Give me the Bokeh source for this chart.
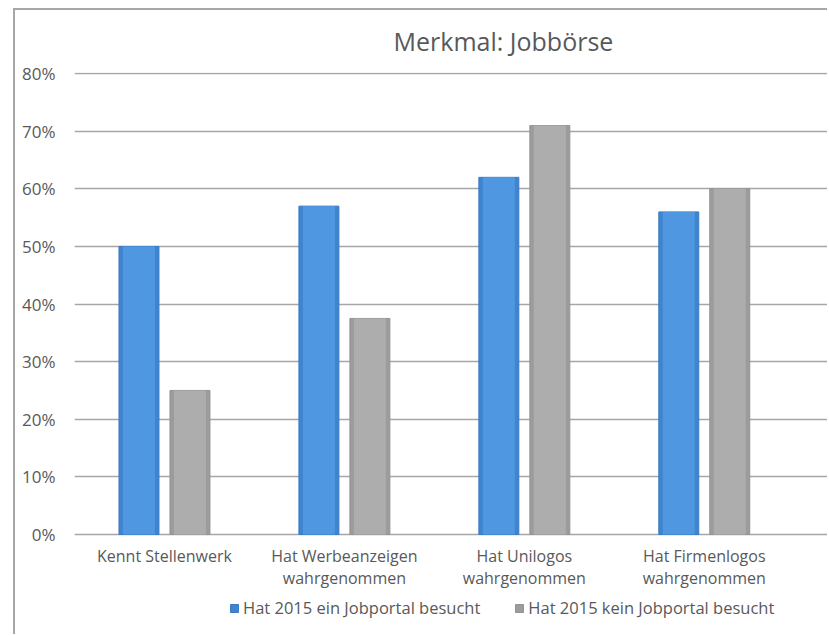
from bokeh.plotting import figure
from bokeh.models import ColumnDataSource, FixedTicker, Legend, LegendItem, Title
from bokeh.core.properties import value
from bokeh.transform import dodge
from bokeh.embed import file_html
from bokeh.resources import INLINE

# ---- data ----
categories = [
    "Kennt Stellenwerk",
    "Hat Werbeanzeigen\nwahrgenommen",
    "Hat Unilogos\nwahrgenommen",
    "Hat Firmenlogos\nwahrgenommen",
]
series_names = ["Hat 2015 ein Jobportal besucht", "Hat 2015 kein Jobportal besucht"]
ein_values = [50, 57, 62, 56]
kein_values = [25, 37.5, 71, 60]
y_ticks = [0, 10, 20, 30, 40, 50, 60, 70, 80]
y_tick_labels = ["0%", "10%", "20%", "30%", "40%", "50%", "60%", "70%", "80%"]
title_text = "Merkmal: Jobbörse"

FONT = "Open Sans"
TEXT = "#595959"
GRID = "#a6a6a6"

xs = list(range(len(categories)))
src = ColumnDataSource(dict(x=xs, ein=ein_values, kein=kein_values))

px_per_unit = 5.76                     # vertical pixels per percent
y_end = 80.2
y_start = y_end - 564 / px_per_unit    # frame reaches the bottom of the canvas

p = figure(
    width=814, height=626,
    x_range=(-0.5, 3.696), y_range=(y_start, y_end),
    output_backend="svg", toolbar_location=None,
    min_border_left=59, min_border_right=0, min_border_top=62, min_border_bottom=0,
)
p.styles = {
    "margin-left": "13px", "margin-top": "8px",
    "border-left": "2px solid #a6a6a6", "border-top": "2px solid #a6a6a6",
}
p.outline_line_color = None
p.background_fill_color = "white"
p.border_fill_color = "white"

t = Title(text=title_text, align="left", offset=319, standoff=26, vertical_align="top",
          text_font=FONT, text_font_size="25px", text_font_style="normal", text_color=TEXT)
p.add_layout(t, "above")

bw = 40 / 180
off = 25.5 / 180
inner = 32 / 180

r1 = p.vbar(x=dodge("x", -off, range=p.x_range), top="ein", width=bw, source=src,
            fill_color="#3f84cf", line_color="#3a7bc4", line_width=1)
p.vbar(x=dodge("x", -off, range=p.x_range), top="ein", width=inner, source=src,
       fill_color="#4f97e0", line_color=None)
r2 = p.vbar(x=dodge("x", off, range=p.x_range), top="kein", width=bw, source=src,
            fill_color="#9c9c9c", line_color="#939393", line_width=1)
p.vbar(x=dodge("x", off, range=p.x_range), top="kein", width=inner, source=src,
       fill_color="#adadad", line_color=None)

# category labels below the baseline
lab_src = ColumnDataSource(dict(x=xs, label=categories, y=[-11.0 / px_per_unit] * len(xs)))
p.text(x="x", y="y", text="label", source=lab_src,
       text_align="center", text_baseline="top", text_line_height=1.0,
       text_font=value(FONT), text_font_size="16px", text_color=TEXT)

# axes
p.xaxis.visible = False
p.yaxis.ticker = FixedTicker(ticks=y_ticks)
p.yaxis.major_label_overrides = {t_: l for t_, l in zip(y_ticks, y_tick_labels)}
p.yaxis.axis_line_color = None
p.yaxis.major_tick_line_color = None
p.yaxis.minor_tick_line_color = None
p.yaxis.major_label_text_font = FONT
p.yaxis.major_label_text_font_size = "17px"
p.yaxis.major_label_text_color = TEXT
p.yaxis.major_label_standoff = 13

p.xgrid.grid_line_color = None
p.ygrid.ticker = FixedTicker(ticks=y_ticks)
p.ygrid.grid_line_color = GRID
p.ygrid.grid_line_width = 1.5

legend = Legend(
    items=[LegendItem(label=series_names[0], renderers=[r1]),
           LegendItem(label=series_names[1], renderers=[r2])],
    location=(155, 17), orientation="horizontal",
    padding=0, margin=0, spacing=34, label_standoff=4,
    glyph_width=10, glyph_height=10,
    label_text_font=FONT, label_text_font_size="16.5px", label_text_color=TEXT,
    border_line_color=None, background_fill_alpha=0,
)
p.add_layout(legend, "center")

open("out.html", "w").write(file_html(p, INLINE))
